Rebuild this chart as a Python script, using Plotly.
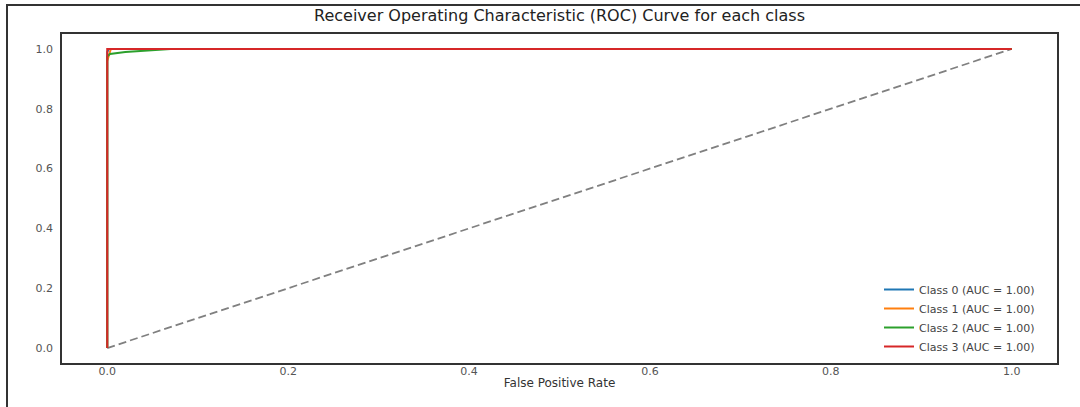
import plotly.graph_objects as go

# ROC data
class_names = ["Class 0", "Class 1", "Class 2", "Class 3"]
auc_values = [1.00, 1.00, 1.00, 1.00]
fpr_class0 = [0.0, 0.0, 0.002, 1.0]
tpr_class0 = [0.0, 0.99, 1.0, 1.0]
fpr_class1 = [0.0, 0.0, 0.004, 1.0]
tpr_class1 = [0.0, 0.96, 1.0, 1.0]
fpr_class2 = [0.0, 0.0, 0.003, 0.02, 0.07, 1.0]
tpr_class2 = [0.0, 0.975, 0.983, 0.99, 1.0, 1.0]
fpr_class3 = [0.0, 0.0, 1.0]
tpr_class3 = [0.0, 1.0, 1.0]
chance_x = [0.0, 1.0]
chance_y = [0.0, 1.0]
tick_values = [0.0, 0.2, 0.4, 0.6, 0.8, 1.0]
tick_labels = ["0.0", "0.2", "0.4", "0.6", "0.8", "1.0"]

colors = ["#1f77b4", "#ff7f0e", "#2ca02c", "#d62728"]
fprs = [fpr_class0, fpr_class1, fpr_class2, fpr_class3]
tprs = [tpr_class0, tpr_class1, tpr_class2, tpr_class3]

FONT = "DejaVu Sans, Arial, sans-serif"

fig = go.Figure()
fig.add_trace(go.Scatter(x=chance_x, y=chance_y, mode="lines",
                         line=dict(color="#808080", width=1.8, dash="8px,4px"),
                         showlegend=False, hoverinfo="skip"))
for name, auc, fx, ty, c in zip(class_names, auc_values, fprs, tprs, colors):
    fig.add_trace(go.Scatter(x=fx, y=ty, mode="lines",
                             name=f"{name} (AUC = {auc:.2f})",
                             line=dict(color=c, width=2)))

W, H = 1080, 407
L, R, T, B = 62, 23, 34, 44
pw, ph = W - L - R, H - T - B

def px2paper_x(px):
    return (px - L) / pw

def px2paper_y(py):
    return (H - B - py) / ph

fig.update_layout(
    width=W, height=H,
    margin=dict(l=L, r=R, t=T, b=B),
    paper_bgcolor="white", plot_bgcolor="white",
    font=dict(family=FONT, color="#444444", size=11),
    title=dict(text="Receiver Operating Characteristic (ROC) Curve for each class",
               x=0.5, xref="paper", xanchor="center",
               y=1 - 15 / H, yanchor="middle",
               font=dict(family=FONT, size=16, color="#222222")),
    xaxis=dict(range=[-0.05, 1.05], tickvals=tick_values, ticktext=tick_labels,
               showgrid=False, zeroline=False, showline=True, mirror=True,
               linecolor="#333333", linewidth=1.8, ticks="",
               ticklabelstandoff=-3,
               title=dict(text="False Positive Rate", standoff=2,
                          font=dict(family=FONT, size=12, color="#333333")),
               tickfont=dict(size=11, color="#555555")),
    yaxis=dict(range=[-0.05, 1.05], tickvals=tick_values, ticktext=tick_labels,
               showgrid=False, zeroline=False, showline=True, mirror=True,
               linecolor="#333333", linewidth=1.8, ticks="",
               ticklabelstandoff=5,
               tickfont=dict(size=11, color="#555555")),
    legend=dict(x=px2paper_x(1040), xanchor="right",
                y=px2paper_y(361), yanchor="bottom",
                bgcolor="rgba(255,255,255,0)", borderwidth=0,
                font=dict(family=FONT, size=11, color="#444444"),
                tracegroupgap=0),
    shapes=[dict(type="rect", xref="paper", yref="paper",
                 x0=px2paper_x(7), x1=px2paper_x(1090),
                 y0=px2paper_y(415), y1=px2paper_y(5),
                 line=dict(color="#333333", width=2), layer="below")],
)

fig.write_html("out.html",
               config={"displayModeBar": False},
               post_script="document.body.style.margin='0';document.body.style.overflow='hidden';")
